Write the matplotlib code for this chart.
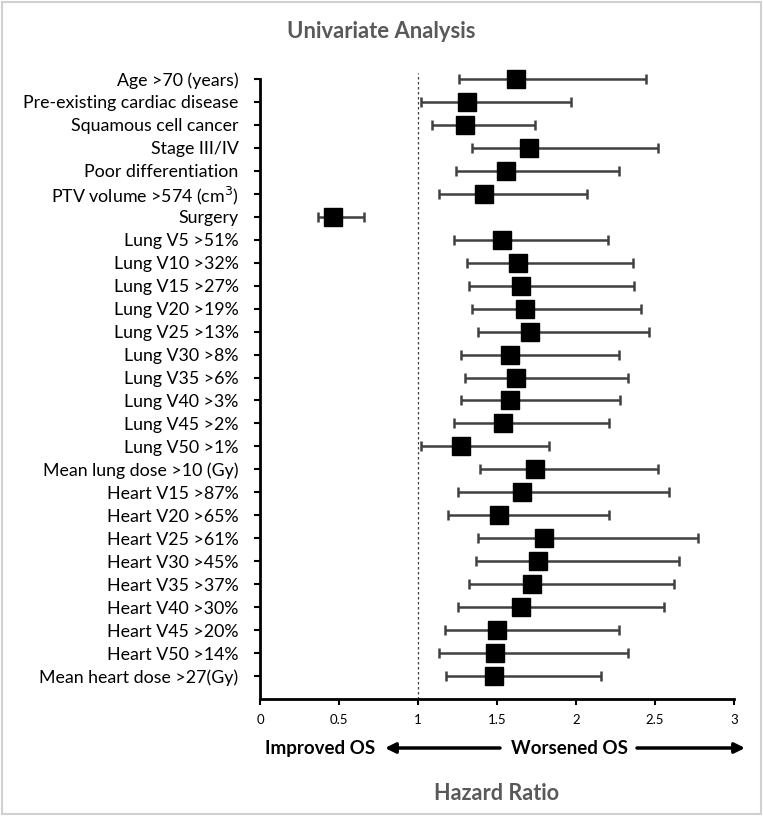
import matplotlib
matplotlib.use('Agg')
import matplotlib.pyplot as plt
from matplotlib.patches import Rectangle

plt.rcParams['font.family'] = ['Lato', 'DejaVu Sans']

# rows from top to bottom
labels = [
    'Age >70 (years)', 'Pre-existing cardiac disease', 'Squamous cell cancer',
    'Stage III/IV', 'Poor differentiation', 'PTV volume >574 (cm$^3$)', 'Surgery',
    'Lung V5 >51%', 'Lung V10 >32%', 'Lung V15 >27%', 'Lung V20 >19%',
    'Lung V25 >13%', 'Lung V30 >8%', 'Lung V35 >6%', 'Lung V40 >3%',
    'Lung V45 >2%', 'Lung V50 >1%', 'Mean lung dose >10 (Gy)',
    'Heart V15 >87%', 'Heart V20 >65%', 'Heart V25 >61%', 'Heart V30 >45%',
    'Heart V35 >37%', 'Heart V40 >30%', 'Heart V45 >20%', 'Heart V50 >14%',
    'Mean heart dose >27(Gy)',
]
hr = [1.62, 1.31, 1.30, 1.70, 1.56, 1.42, 0.46, 1.53, 1.63, 1.65, 1.68,
      1.71, 1.58, 1.62, 1.58, 1.54, 1.27, 1.74, 1.66, 1.51, 1.80, 1.76,
      1.72, 1.65, 1.50, 1.49, 1.48]
ci_low = [1.26, 1.02, 1.09, 1.34, 1.24, 1.13, 0.37, 1.23, 1.31, 1.32, 1.34,
          1.38, 1.27, 1.30, 1.27, 1.23, 1.02, 1.39, 1.25, 1.19, 1.38, 1.37,
          1.32, 1.25, 1.17, 1.13, 1.18]
ci_high = [2.44, 1.97, 1.74, 2.52, 2.27, 2.07, 0.66, 2.20, 2.36, 2.37, 2.41,
           2.46, 2.27, 2.33, 2.28, 2.21, 1.83, 2.52, 2.59, 2.21, 2.77, 2.65,
           2.62, 2.56, 2.27, 2.33, 2.16]
xticks = [0, 0.5, 1, 1.5, 2, 2.5, 3]
xticklabels = ['0', '0.5', '1', '1.5', '2', '2.5', '3']

n = len(labels)
ypos = [n - i for i in range(n)]

fig = plt.figure(figsize=(7.63, 8.16), dpi=100)
ax = fig.add_axes([0.3408, 0.1434, 0.6212, 0.7598])

# light frame round the picture
fig.patches.append(Rectangle((0.002, 0.002), 0.996, 0.996, transform=fig.transFigure,
                             fill=False, edgecolor='#d0d0d0', linewidth=1.5))

err = [[h - l for h, l in zip(hr, ci_low)], [u - h for h, u in zip(hr, ci_high)]]
eb = ax.errorbar(hr, ypos, xerr=err, fmt='none', ecolor='#404040', elinewidth=1.8,
                 capsize=3.5, capthick=1.8, zorder=2)
for art in eb.lines[1] + eb.lines[2]:
    art.set_clip_on(False)
ax.plot(hr, ypos, 's', color='black', markersize=12.5, zorder=3, clip_on=False)

# reference line at HR = 1
ax.plot([1, 1], [0, n + 0.27], linestyle=(0, (2, 2)), color='#404040',
        linewidth=0.9, clip_on=False, zorder=1)

ax.set_xlim(0, 3)
ax.set_ylim(0, n)
ax.set_xticks(xticks)
ax.set_xticklabels(xticklabels, fontsize=9.5)
ax.set_yticks(ypos)
ax.set_yticklabels(labels, fontsize=12.8)
ax.tick_params(axis='y', direction='out', length=4.5, width=1.5, pad=11)
ax.tick_params(axis='x', direction='out', length=4.5, width=1.5, pad=6)
for s in ['top', 'right']:
    ax.spines[s].set_visible(False)
for s in ['left', 'bottom']:
    ax.spines[s].set_linewidth(2)

fig.text(0.50, 0.962, 'Univariate Analysis', ha='center', va='center',
         fontsize=15.8, fontweight='bold', color='#595959')
fig.text(0.651, 0.028, 'Hazard Ratio', ha='center', va='center',
         fontsize=15.6, fontweight='bold', color='#595959')

fig.text(320 / 763, 0.083, 'Improved OS', ha='center', va='center',
         fontsize=13.5, fontweight='bold', color='black')
fig.text(569 / 763, 0.083, 'Worsened OS', ha='center', va='center',
         fontsize=13.5, fontweight='bold', color='black')


# arrows in pixel space
def px_arrow(x0, x1, y):
    ax.annotate('', xy=(x1 / 763, 1 - y / 816), xytext=(x0 / 763, 1 - y / 816),
                xycoords='figure fraction', textcoords='figure fraction',
                arrowprops=dict(arrowstyle='-|>,head_length=0.6,head_width=0.3',
                                color='black', linewidth=2.5, shrinkA=0, shrinkB=0))


px_arrow(500, 385, 748)
px_arrow(637, 745, 748)

fig.savefig('out.png', dpi=100)
